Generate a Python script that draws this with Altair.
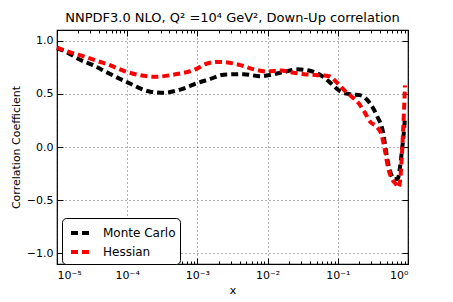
import json
import altair as alt
import pandas as pd

# ---- data (x given as log10 exponents) ----
mc_logx = [-5.000, -4.843, -4.671, -4.486, -4.343, -4.004, -3.671, -3.486, -3.243, -3.004,
           -2.814, -2.629, -2.343, -2.100, -1.910, -1.743, -1.576, -1.386, -1.243, -1.100,
           -0.957, -0.814, -0.671, -0.553, -0.433, -0.361, -0.329, -0.290, -0.243, -0.196,
           -0.147, -0.114, -0.086, -0.061, -0.043]
mc_corr = [0.93, 0.885, 0.82, 0.77, 0.72, 0.61, 0.52, 0.51, 0.54, 0.60,
           0.64, 0.68, 0.685, 0.665, 0.685, 0.71, 0.73, 0.715, 0.675, 0.60,
           0.52, 0.495, 0.485, 0.42, 0.28, 0.155, 0.03, -0.13, -0.25, -0.30,
           -0.30, -0.19, -0.03, 0.125, 0.28]

hess_logx = [-5.000, -4.790, -4.629, -4.457, -4.290, -4.004, -3.600, -3.343, -3.029, -2.861,
             -2.700, -2.386, -2.196, -2.004, -1.814, -1.647, -1.481, -1.290, -1.124, -1.004,
             -0.886, -0.814, -0.714, -0.629, -0.529, -0.443, -0.371, -0.329, -0.286, -0.243,
             -0.171, -0.133, -0.100, -0.081, -0.057, -0.043]
hess_corr = [0.935, 0.885, 0.855, 0.815, 0.78, 0.706, 0.66, 0.68, 0.73, 0.785,
             0.80, 0.77, 0.73, 0.71, 0.72, 0.70, 0.685, 0.675, 0.665, 0.60,
             0.52, 0.48, 0.42, 0.34, 0.23, 0.19, 0.10, -0.03, -0.19, -0.28,
             -0.35, -0.38, -0.22, 0.0, 0.34, 0.58]

series_names = ["Monte Carlo", "Hessian"]
series_colors = ["black", "red"]

x_major = [1e-5, 1e-4, 1e-3, 1e-2, 1e-1, 1.0]
x_labels = ["10⁻⁵", "10⁻⁴", "10⁻³", "10⁻²", "10⁻¹", "10⁰"]
x_minor = [m * 10.0 ** e for e in range(-5, 0) for m in range(1, 10)] + [1.0]
y_ticks = [-1.0, -0.5, 0.0, 0.5, 1.0]

title_text = "NNPDF3.0 NLO, Q² =10⁴  GeV², Down-Up correlation"

rows = []
for name, lx, cy in [(series_names[0], mc_logx, mc_corr), (series_names[1], hess_logx, hess_corr)]:
    for i, (a, b) in enumerate(zip(lx, cy)):
        rows.append({"series": name, "x": 10.0 ** a, "corr": b, "idx": i})
df = pd.DataFrame(rows)

W, H = 351, 234
FONT = "DejaVu Sans"

xscale = alt.Scale(type="log", domain=[1e-5, 1.0])
yscale = alt.Scale(domain=[-1.1, 1.1], nice=False, zero=False)

label_expr = json.dumps(x_labels, ensure_ascii=False) + "[round(log(datum.value)/LN10)+5]"
is_major = "abs(log(datum.value)/LN10 - round(log(datum.value)/LN10)) < 0.001"
tick_size = {"condition": {"test": is_major, "value": 6}, "value": 3}

main = alt.Chart(df).mark_line(
    strokeWidth=4, strokeDash=[7, 4], interpolate="monotone"
).encode(
    x=alt.X("x:Q", scale=xscale, axis=alt.Axis(
        orient="bottom", values=x_major, labelExpr=label_expr, ticks=False, domain=False,
        grid=True, gridColor="black", gridDash=[1, 3], gridOpacity=0.6,
        title="x", labelPadding=5, titlePadding=4)),
    y=alt.Y("corr:Q", scale=yscale, axis=alt.Axis(
        orient="left", values=y_ticks, format=".1f", ticks=False, domain=False,
        grid=True, gridColor="black", gridDash=[1, 3], gridOpacity=0.6,
        title="Correlation Coefficient", labelPadding=4, titlePadding=5)),
    color=alt.Color("series:N", scale=alt.Scale(domain=series_names, range=series_colors),
                    legend=alt.Legend(
                        orient="none", legendX=5, legendY=188, title=None,
                        symbolType="stroke", symbolSize=324, symbolStrokeWidth=4,
                        symbolDash=[7, 4], labelFontSize=12, labelFont=FONT,
                        labelColor="black", strokeColor="black", fillColor="white",
                        cornerRadius=4, padding=4, rowPadding=0, labelOffset=12,
                        symbolOffset=3)),
    order=alt.Order("idx:Q"),
)

ticks_a = alt.Chart(df).mark_line(opacity=0).encode(
    x=alt.X("x:Q", scale=xscale, title=None, axis=alt.Axis(
        orient="top", offset=-H, values=x_minor, labels=False, domain=False, grid=False,
        tickSize=tick_size, tickColor="black")),
    y=alt.Y("corr:Q", scale=yscale, title=None, axis=alt.Axis(
        orient="right", offset=-W, values=y_ticks, labels=False, domain=False, grid=False,
        tickSize=6, tickColor="black")),
)

ticks_b = alt.Chart(df).mark_line(opacity=0).encode(
    x=alt.X("x:Q", scale=xscale, title=None, axis=alt.Axis(
        orient="bottom", offset=-H, values=x_minor, labels=False, domain=False, grid=False,
        tickSize=tick_size, tickColor="black")),
    y=alt.Y("corr:Q", scale=yscale, title=None, axis=alt.Axis(
        orient="left", offset=-W, values=y_ticks, labels=False, domain=False, grid=False,
        tickSize=6, tickColor="black")),
)

chart = alt.layer(main, ticks_a, ticks_b).resolve_axis(
    x="independent", y="independent"
).properties(
    width=W, height=H,
    title=alt.TitleParams(text=title_text, font=FONT, fontSize=13, fontWeight="normal",
                          color="black", anchor="middle", offset=5),
    autosize=alt.AutoSizeParams(type="none"),
    padding={"left": 49, "top": 22, "right": 37, "bottom": 44},
).configure_view(
    stroke="black", strokeWidth=1.2
).configure_axis(
    labelFont=FONT, labelFontSize=11, labelColor="black",
    titleFont=FONT, titleFontSize=11, titleFontWeight="normal", titleColor="black",
)

chart.save("out.html", embed_options={"renderer": "svg", "actions": False})
